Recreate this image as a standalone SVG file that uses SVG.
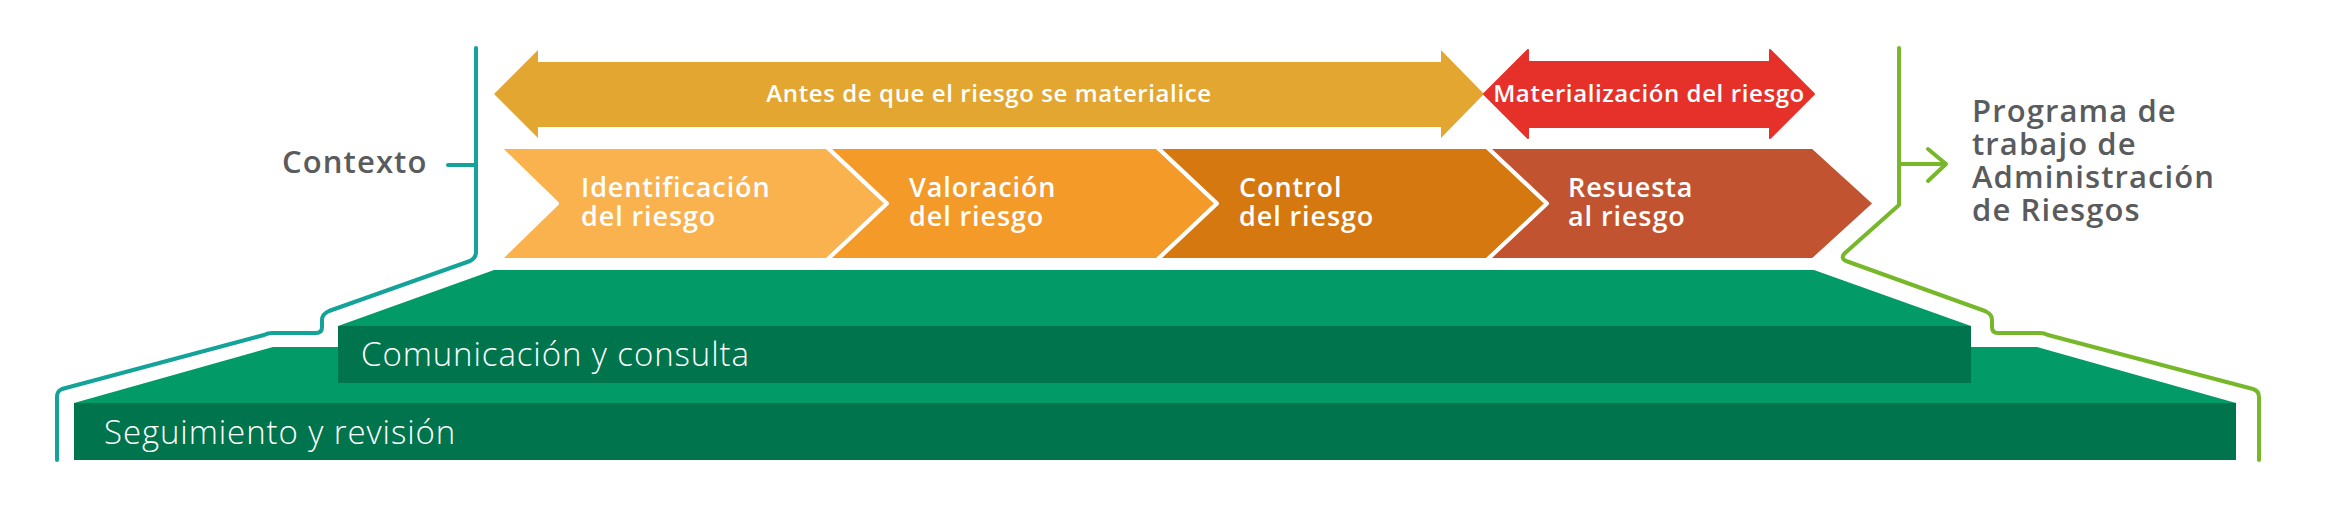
<svg xmlns="http://www.w3.org/2000/svg" width="2325" height="515" viewBox="0 0 2325 515">
<style>
.w{fill:#fff;font-family:"Open Sans","Liberation Sans",sans-serif}
.sb{font-weight:600}
.lt{font-weight:300;font-size:33px;letter-spacing:0.9px}
.ar{font-size:24px;letter-spacing:0.6px}
.ch{font-size:27px;letter-spacing:0.9px}
.g{fill:#5a5b5d;font-family:"Open Sans","Liberation Sans",sans-serif;font-weight:600;font-size:31px;letter-spacing:1.1px}
.chev{stroke:#fff;stroke-width:4;stroke-linejoin:round}
.line{fill:none;stroke-width:4;stroke-linecap:round;stroke-linejoin:round}
</style>
<rect width="2325" height="515" fill="#fff"/>
<g id="seguimiento">
<polygon points="273,347 2037,347 2236,403 74,403" fill="#029a66"/>
<rect x="74" y="403" width="2162" height="57" fill="#00744c"/>
<text class="w lt" x="104" y="444">Seguimiento y revisión</text>
</g>
<g id="comunicacion">
<polygon points="494,270 1814,270 1971,326 338,326" fill="#029a66"/>
<rect x="338" y="326" width="1633" height="57" fill="#00744c"/>
<text class="w lt" x="361" y="366">Comunicación y consulta</text>
</g>
<g id="antes">
<polygon points="494,94 538,50 538,62 1441,62 1441,50 1484,94 1441,138 1441,127 538,127 538,138" fill="#e3a630"/>
<text class="w sb ar" x="989" y="102" text-anchor="middle">Antes de que el riesgo se materialice</text>
</g>
<g id="materializacion">
<polygon points="1484,94 1528,50 1528,62 1770,62 1770,50 1814,94 1770,138 1770,127 1528,127 1528,138" fill="#e6312b" stroke="#e6312b" stroke-width="2" stroke-linejoin="round"/>
<text class="w sb ar" x="1649" y="102" text-anchor="middle">Materialización del riesgo</text>
</g>
<g id="identificacion">
<polygon class="chev" points="499,147 827,147 887,203.5 827,260 499,260 557,203.5" fill="#f9b24d"/>
<text class="w sb ch" x="581" y="197">Identificación</text>
<text class="w sb ch" x="581" y="226">del riesgo</text>
</g>
<g id="valoracion">
<polygon class="chev" points="827,147 1157,147 1217,203.5 1157,260 827,260 887,203.5" fill="#f39a29"/>
<text class="w sb ch" x="909" y="197">Valoración</text>
<text class="w sb ch" x="909" y="226">del riesgo</text>
</g>
<g id="control">
<polygon class="chev" points="1157,147 1487,147 1547,203.5 1487,260 1157,260 1217,203.5" fill="#d5780f"/>
<text class="w sb ch" x="1239" y="197">Control</text>
<text class="w sb ch" x="1239" y="226">del riesgo</text>
</g>
<g id="respuesta">
<polygon class="chev" points="1487,147 1813,147 1875,203.5 1813,260 1487,260 1547,203.5" fill="#c25331"/>
<text class="w sb ch" x="1568" y="197">Resuesta</text>
<text class="w sb ch" x="1568" y="226">al riesgo</text>
</g>
<g id="contexto">
<text class="g" x="282" y="173">Contexto</text>
</g>
<g id="programa">
<text class="g" x="1972" y="122">Programa de</text>
<text class="g" x="1972" y="155">trabajo de</text>
<text class="g" x="1972" y="188">Administración</text>
<text class="g" x="1972" y="221">de Riesgos</text>
</g>
<g id="connectors">
<path class="line" stroke="#13a398" d="M476,48 V252 Q476,258 470,261 L329,311 Q322,314 322,320 V327 Q322,333 316,333 H272 Q268,333 264,335 L62,389 Q57,391 57,397 V460"/>
<path class="line" stroke="#13a398" d="M448,165 H476"/>
<path class="line" stroke="#77b82a" d="M1899,48 V205 L1845,253 Q1840,258 1846,261 L1985,311 Q1992,314 1992,320 V327 Q1992,333 1998,333 H2040 Q2044,333 2048,335 L2253,389 Q2259,391 2259,397 V460"/>
<path class="line" stroke="#77b82a" d="M1899,164 H1946 M1928,149 L1946,164 L1928,181"/>
</g>
</svg>
